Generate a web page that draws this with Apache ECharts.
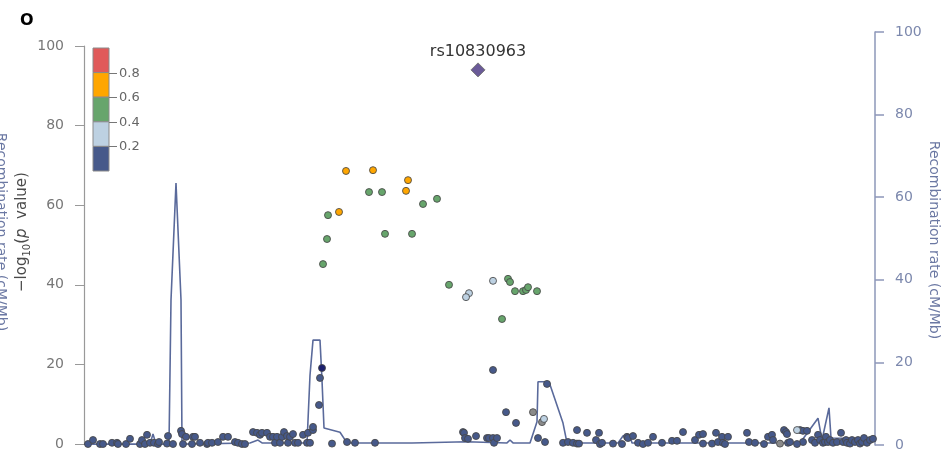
<!DOCTYPE html>
<html><head><meta charset="utf-8">
<script src="https://cdn.jsdelivr.net/npm/echarts@6/dist/echarts.min.js"></script>
<style>html,body{margin:0;padding:0;background:#fff}#c{width:948px;height:458px}</style>
</head><body><div id="c"></div>
<script>
// ---- data (position in kb from region start, -log10 p / cM/Mb) ----
const yTicks = [0, 20, 40, 60, 80, 100];
const ldBreaks = [0.2, 0.4, 0.6, 0.8];
const ldColors = ['#46598a', '#bdd1e2', '#67a56c', '#ffa600', '#e05a5a']; // low -> high r2
const leadSnp = [[394, 94.0]];
const leadName = 'rs10830963';
const ldOrange = [[262,68.6],[289,68.8],[324,66.3],[322,63.6],[255,58.3]];
const ldGreen = [[244,57.5],[285,63.3],[298,63.3],[339,60.3],[353,61.6],[301,52.8],[328,52.8],
  [243,51.5],[239,45.2],[365,40.0],[424,41.5],[426,40.7],[431,38.4],[439,38.4],[442,38.7],
  [444,39.4],[453,38.4],[418,31.4]];
const ldLightBlue = [[385,37.9],[382,36.9],[409,41.0],[460,6.3],[713,3.5]];
const ldGrey = [[449,8.0],[458,5.5],[696,0.1]];
const ldNavy = [[238,19.1]];
const ldDarkBlue = [[236,16.6],[235,9.8],[409,18.6],[463,15.1],[422,8.0],[432,5.3],
  [4,0],[9,1.0],[16,0],[19,0],[28,0.3],[33,0.3],[34,0],[42,0],[46,1.3],[56,0],[58,1.0],[61,0],
  [63,2.3],[66,0.3],[70,0.3],[74,0],[75,0.5],[83,0.1],[84,2.0],[89,0],[97,3.3],[98,2.5],[99,0],
  [102,1.8],[108,0],[109,1.8],[111,1.8],[116,0.3],[123,0],[124,0.3],[128,0.3],[134,0.5],[139,1.8],
  [144,1.8],[151,0.5],[154,0.3],[158,0],[161,0],[169,3.0],[173,2.8],[176,2.3],[178,2.8],[183,2.8],
  [186,1.8],[189,1.8],[191,0.3],[193,1.8],[196,0.3],[198,1.8],[200,3.0],[203,2.0],[204,0.3],
  [206,1.8],[209,2.5],[211,0.3],[214,0.3],[219,2.3],[223,0.3],[224,2.8],[226,0.3],[229,3.5],
  [229,4.3],[248,0.1],[263,0.5],[271,0.3],[291,0.3],
  [379,3.0],[380,2.8],[381,1.5],[384,1.3],[392,2.0],[403,1.5],[405,1.5],[409,1.5],[410,0.3],
  [413,1.5],[454,1.5],[461,0.5],[479,0.3],[484,0.5],[489,0.3],[493,3.5],[493,0.1],[495,0.1],
  [503,2.8],[512,1.0],[515,2.8],[516,0],[518,0.3],[529,0.1],[538,0],[543,1.8],[544,1.5],[549,2.0],
  [554,0.3],[559,0],[564,0.3],
  [569,1.8],[578,0.3],[588,0.8],[593,0.8],[599,3.0],[611,1.0],[615,2.3],[619,2.5],[619,0.1],
  [628,0.1],[632,2.8],[634,0.5],[638,1.8],[639,0.3],[641,0],[644,1.8],[663,2.8],[665,0.5],
  [671,0.3],[680,0],[684,1.8],[688,2.3],[689,1.0],[700,3.5],[702,3.0],[703,2.5],[704,0.3],
  [706,0.5],[716,3.5],[719,3.3],[723,3.3],[719,0.5],[713,0],[728,1.0],[731,0.3],[734,2.3],
  [736,1.0],[739,0.3],[741,0.5],[742,1.8],[744,0.5],[746,1.0],[749,0.3],[753,0.5],[757,2.8],
  [759,0.5],[762,1.0],[763,0.3],[766,0.1],[768,1.0],[771,0.5],[774,1.0],[776,0.1],[778,0.5],
  [780,1.5],[783,0.3],[786,1.0],[789,1.3]];
const recombRate = [[0,0.2],[66,0.2],[69,2.7],[72,0.2],[85,0.2],[87,35.1],[92,63.4],[97,35.1],
  [98,0.2],[166,0.5],[174,1.2],[178,0.5],[223,0.5],[226,16.9],[229,25.4],[236,25.4],[238,15.7],
  [240,4.1],[256,3.1],[263,0.5],[328,0.5],[330,0.8],[383,0.8],[385,0.5],[423,0.5],[426,1.2],
  [429,0.5],[446,0.5],[453,5.6],[454,15.3],[465,15.3],[479,5.3],[483,0.5],[534,0.5],[539,2.2],
  [546,2.2],[548,0.5],[716,0.5],[734,6.5],[738,1.2],[745,9.0],[747,1.7],[791,1.5]];
const xRange = [0, 791];

// ---- chart ----
const FONT = "'DejaVu Sans', Verdana, sans-serif";
const chart = echarts.init(document.getElementById('c'));
const edge = 'rgba(70,70,70,0.85)';
function pts(data, color, name) {
  return { name, type: 'scatter', xAxisIndex: 0, yAxisIndex: 0, data, symbolSize: 7, z: 3,
    itemStyle: { color, borderColor: edge, borderWidth: 1, opacity: 1 } };
}
const graphic = [
  { type: 'text', left: 20, top: 13, style: { text: 'O', font: 'bold 16px ' + FONT, fill: '#000' } },
  { type: 'text', x: 22, y: 232, rotation: Math.PI / 2,
    style: { text: '\u2212log{sub|10}({it|p}  value)', align: 'center', verticalAlign: 'middle',
      font: '15px ' + FONT, fill: '#4a4a4a',
      rich: { sub: { fontSize: 10, fontFamily: FONT, fill: '#4a4a4a', verticalAlign: 'bottom', lineHeight: 21 },
              it: { fontSize: 15, fontStyle: 'italic', fontFamily: FONT, fill: '#4a4a4a' } } } },
  { type: 'text', x: 1, y: 232, rotation: -Math.PI / 2,
    style: { text: 'Recombination rate (cM/Mb)', align: 'center', verticalAlign: 'middle',
      font: '14px ' + FONT, fill: '#6b78a3' } },
  { type: 'text', x: 934, y: 240, rotation: -Math.PI / 2,
    style: { text: 'Recombination rate (cM/Mb)', align: 'center', verticalAlign: 'middle',
      font: '14px ' + FONT, fill: '#6b78a3' } }
];
// LD colour bar legend
const barTop = 48, segH = 24.6, barX = 93, barW = 16;
const topDown = ldColors.slice().reverse();
topDown.forEach((c, i) => {
  graphic.push({ type: 'rect', shape: { x: barX, y: barTop + i * segH, width: barW, height: segH },
    style: { fill: c, stroke: '#8a8a8a', lineWidth: 1 }, z: 10 });
});
ldBreaks.slice().reverse().forEach((b, i) => {
  const y = Math.round(barTop + (i + 1) * segH) + 0.5;
  graphic.push({ type: 'line', shape: { x1: barX + barW, y1: y, x2: barX + barW + 8, y2: y },
    style: { stroke: '#777', lineWidth: 1 }, z: 10 });
  graphic.push({ type: 'text', x: barX + barW + 10, y: y,
    style: { text: b.toFixed(1), font: '13px ' + FONT, fill: '#666', verticalAlign: 'middle' }, z: 10 });
});

chart.setOption({
  animation: false,
  textStyle: { fontFamily: FONT },
  grid: [
    { left: 84, right: 73, top: 46, bottom: 14 },
    { left: 84, right: 73, top: 32, bottom: 13 }
  ],
  xAxis: [
    { gridIndex: 0, type: 'value', min: xRange[0], max: xRange[1], show: false },
    { gridIndex: 1, type: 'value', min: xRange[0], max: xRange[1], show: false }
  ],
  yAxis: [
    { gridIndex: 0, type: 'value', min: yTicks[0], max: yTicks[yTicks.length - 1], interval: 20,
      position: 'left', splitLine: { show: false },
      axisLine: { show: true, onZero: false, lineStyle: { color: '#999', width: 1.2 } },
      axisTick: { show: true, length: 9, lineStyle: { color: '#999' } },
      axisLabel: { color: '#777', fontSize: 14, margin: 20, fontFamily: FONT } },
    { gridIndex: 1, type: 'value', min: yTicks[0], max: yTicks[yTicks.length - 1], interval: 20,
      position: 'right', splitLine: { show: false },
      axisLine: { show: true, onZero: false, lineStyle: { color: '#8d97b9', width: 1.5 } },
      axisTick: { show: true, length: 9, lineStyle: { color: '#8d97b9', width: 1.5 } },
      axisLabel: { color: '#7c88ad', fontSize: 14, margin: 20, fontFamily: FONT } }
  ],
  graphic,
  series: [
    { name: 'recomb', type: 'line', xAxisIndex: 1, yAxisIndex: 1, data: recombRate, symbol: 'none',
      z: 1, lineStyle: { color: '#5a6a9b', width: 1.6 } },
    pts(ldDarkBlue, ldColors[0], 'r2<0.2'),
    pts(ldGrey, '#8a8a8a', 'NA'),
    pts(ldNavy, '#1b1f6e', 'navy'),
    pts(ldLightBlue, ldColors[1], '0.2-0.4'),
    pts(ldGreen, ldColors[2], '0.4-0.6'),
    pts(ldOrange, ldColors[3], '0.6-0.8'),
    { name: 'lead', type: 'scatter', xAxisIndex: 0, yAxisIndex: 0, data: leadSnp, symbol: 'diamond',
      symbolSize: 14, z: 4, itemStyle: { color: '#6a5a98', borderColor: '#777', borderWidth: 1, opacity: 1 },
      label: { show: true, position: 'top', distance: 3, formatter: leadName, color: '#333',
        fontSize: 16, fontFamily: FONT } }
  ]
});
</script>
</body></html>
